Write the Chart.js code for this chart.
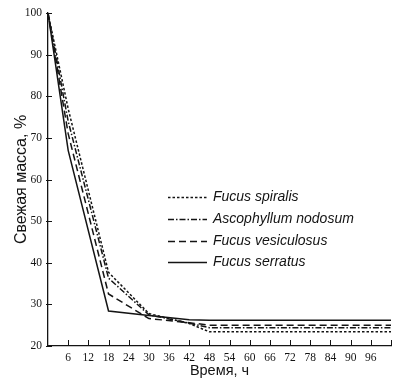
<!DOCTYPE html>
<html><head><meta charset="utf-8">
<script src="https://cdn.jsdelivr.net/npm/chart.js@4"></script>
<style>html,body{margin:0;padding:0;background:#fff}#wrap{width:403px;height:383px}</style>
</head><body><div id="wrap"><canvas id="c" width="403" height="383"></canvas></div>
<script>
const hours = [0, 6, 18, 30, 42, 48, 102];
const seriesNames = ['Fucus spiralis', 'Ascophyllum nodosum', 'Fucus vesiculosus', 'Fucus serratus'];
const spiralis = [100, 77, 37.7, 27.8, 25.4, 23.4, 23.4];
const ascophyllum = [100, 74, 36.3, 27.5, 25.5, 24.4, 24.4];
const vesiculosus = [100, 71, 32.5, 26.6, 25.6, 25.0, 25.0];
const serratus = [100, 67, 28.4, 27.3, 26.3, 26.2, 26.2];
const xTicks = [6, 12, 18, 24, 30, 36, 42, 48, 54, 60, 66, 72, 78, 84, 90, 96];
const yTicks = [20, 30, 40, 50, 60, 70, 80, 90, 100];
const xTitle = 'Время, ч';
const yTitle = 'Свежая масса, %';

const values = [spiralis, ascophyllum, vesiculosus, serratus];
const dashes = [[2.5, 2], [6, 2, 1.5, 2], [7, 4], []];
const ink = '#141414';

const datasets = values.map((v, i) => ({
  label: seriesNames[i],
  data: hours.map((h, j) => ({x: h, y: v[j]})),
  borderColor: ink,
  borderWidth: 1.5,
  borderDash: dashes[i],
  pointRadius: 0,
  tension: 0,
  fill: false
}));

const inwardTicks = {
  id: 'inwardTicks',
  afterDraw(chart) {
    const ctx = chart.ctx, xs = chart.scales.x, ys = chart.scales.y;
    const a = chart.chartArea;
    ctx.save();
    ctx.strokeStyle = ink; ctx.lineWidth = 1;
    ctx.beginPath();
    xTicks.concat([xs.max]).forEach(t => {
      const px = Math.round(xs.getPixelForValue(t)) + 0.5;
      ctx.moveTo(px, a.bottom); ctx.lineTo(px, a.bottom - 6);
    });
    yTicks.forEach(t => {
      const py = Math.round(ys.getPixelForValue(t)) + 0.5;
      ctx.moveTo(a.left - 2, py); ctx.lineTo(a.left + 4, py);
    });
    ctx.stroke();
    ctx.restore();
  }
};

const lineLegend = {
  id: 'lineLegend',
  afterDraw(chart) {
    const ctx = chart.ctx;
    ctx.save();
    ctx.font = 'italic 14px "Liberation Sans", Arial, sans-serif';
    ctx.fillStyle = ink;
    ctx.textBaseline = 'middle';
    const rows = [197, 219, 241, 262];
    chart.data.datasets.forEach((ds, i) => {
      const y = rows[i] + 0.5;
      ctx.strokeStyle = ink; ctx.lineWidth = 1.3;
      ctx.setLineDash(ds.borderDash);
      ctx.beginPath(); ctx.moveTo(168, y); ctx.lineTo(207, y); ctx.stroke();
      ctx.setLineDash([]);
      ctx.fillText(ds.label, 213, rows[i]);
    });
    ctx.restore();
  }
};

new Chart(document.getElementById('c'), {
  type: 'line',
  data: {datasets},
  plugins: [inwardTicks, lineLegend],
  options: {
    responsive: false,
    animation: false,
    devicePixelRatio: 1,
    layout: {padding: {top: 13, right: 12, left: 0, bottom: 0}},
    plugins: {legend: {display: false}, tooltip: {enabled: false}},
    scales: {
      x: {
        type: 'linear', min: 0, max: 102,
        afterBuildTicks: s => { s.ticks = xTicks.map(v => ({value: v})); },
        afterFit: s => { s.height = 37; },
        grid: {display: false, drawTicks: false},
        border: {display: true, color: ink, width: 1.3},
        ticks: {color: ink, padding: 5, maxRotation: 0, autoSkip: false,
          font: {family: '"Liberation Serif", "Times New Roman", serif', size: 11.5}},
        title: {display: true, text: xTitle, color: ink, padding: {top: 0, bottom: 3},
          font: {family: '"Liberation Sans", Arial, sans-serif', size: 14.5}}
      },
      y: {
        min: 20, max: 100,
        afterBuildTicks: s => { s.ticks = yTicks.map(v => ({value: v})); },
        afterFit: s => { s.width = 48; },
        grid: {display: false, drawTicks: false},
        border: {display: true, color: ink, width: 1.3},
        ticks: {color: ink, padding: 6,
          font: {family: '"Liberation Serif", "Times New Roman", serif', size: 11.5}},
        title: {display: true, text: yTitle, color: ink, padding: {top: 12, bottom: 0},
          font: {family: '"Liberation Sans", Arial, sans-serif', size: 16}}
      }
    }
  }
});
</script>
</body></html>
